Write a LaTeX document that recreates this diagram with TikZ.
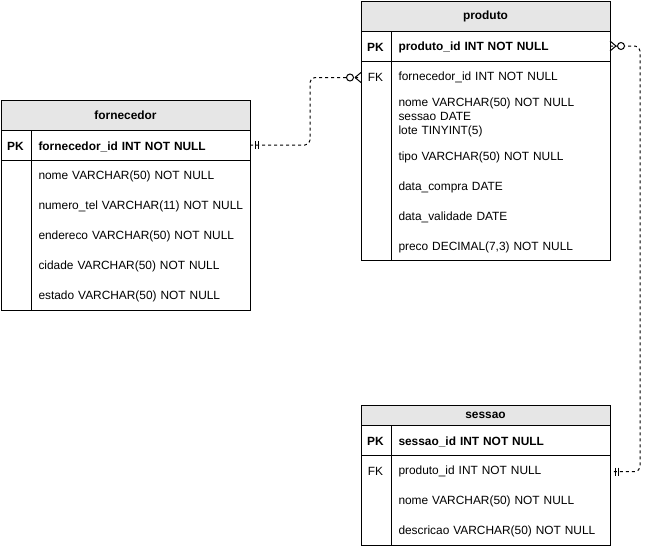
\documentclass[tikz,border=0pt]{standalone}
\usepackage{fontspec}
\setmainfont{Liberation Sans}
\usetikzlibrary{positioning}
\definecolor{hdrgray}{HTML}{E6E6E6}

\begin{document}
\begin{tikzpicture}[
			x=1pt, y=-1pt, line width=1pt,
			font=\fontsize{11.9}{14}\selectfont,
			node distance=30pt,
			% 表头，灰色底
			tabhead/.style={rectangle, draw=black, fill=hdrgray, minimum width=249pt, minimum height=30pt, inner sep=0pt, outer sep=0pt, font=\fontsize{11.9}{14}\selectfont\bfseries},
			% 表格的框
			tabbox/.style={rectangle, draw=black, minimum width=249pt, minimum height=30pt, inner sep=0pt, outer sep=0pt},
			% 字段文字，宽度一样，上下对齐
			field/.style={text width=210pt, align=left, inner sep=0pt},
			pkfield/.style={field, font=\fontsize{11.9}{14}\selectfont\bfseries},
			keylabel/.style={minimum width=30pt, inner sep=0pt},
			% 虚线关系
			rel/.style={draw=black, dash pattern=on 3pt off 3pt, rounded corners=5pt}
		]
		\useasboundingbox (0,0) rectangle (650,546);

		%fornecedor
		\node[tabhead]          (forn)          at (125.5,115)                              {fornecedor};
		\node[tabbox]           (fornpk)        [below=0pt of forn]                         {};
		\node[tabbox, minimum height=150pt] (fornbody) [below=0pt of fornpk]                {};
		\node[pkfield, anchor=west] (fornid)    at ([xshift=37pt, yshift=-1.5pt]fornpk.west) {fornecedor\_id INT NOT NULL};
		\node[keylabel, font=\fontsize{11.9}{14}\selectfont\bfseries] (fornpkl) [left=7pt of fornid.west] {PK};
		\node[field]            (fornnome)      [below of=fornid]                           {nome VARCHAR(50) NOT NULL};
		\node[field]            (forntel)       [below of=fornnome]                         {numero\_tel VARCHAR(11) NOT NULL};
		\node[field]            (fornend)       [below of=forntel]                          {endereco VARCHAR(50) NOT NULL};
		\node[field]            (forncid)       [below of=fornend]                          {cidade VARCHAR(50) NOT NULL};
		\node[field]            (fornest)       [below of=forncid]                          {estado VARCHAR(50) NOT NULL};
		\draw ([xshift=30pt]fornpk.north west) -- ([xshift=30pt]fornbody.south west);

		%produto
		\node[tabhead]          (prod)          at (485.5,16)                               {produto};
		\node[tabbox]           (prodpk)        [below=0pt of prod]                         {};
		\node[tabbox, minimum height=199pt] (prodbody) [below=0pt of prodpk]                {};
		\node[pkfield, anchor=west] (prodid)    at ([xshift=37pt, yshift=-1.5pt]prodpk.west) {produto\_id INT NOT NULL};
		\node[keylabel, font=\fontsize{11.9}{14}\selectfont\bfseries] (prodpkl) [left=7pt of prodid.west] {PK};
		\node[field]            (prodfkf)       [below of=prodid]                           {fornecedor\_id INT NOT NULL};
		\node[keylabel]         (prodfkl)       [left=7pt of prodfkf.west]                  {FK};
		\node[field]            (prodnome)      [below of=prodfkf, node distance=40pt]      {nome VARCHAR(50) NOT NULL\\sessao DATE\\lote TINYINT(5)};
		\node[field]            (prodtipo)      [below of=prodnome, node distance=40pt]     {tipo VARCHAR(50) NOT NULL};
		\node[field]            (prodcompra)    [below of=prodtipo]                         {data\_compra DATE};
		\node[field]            (prodvalid)     [below of=prodcompra]                       {data\_validade DATE};
		\node[field]            (prodpreco)     [below of=prodvalid]                        {preco DECIMAL(7,3) NOT NULL};
		\draw ([xshift=30pt]prodpk.north west) -- ([xshift=30pt]prodbody.south west);

		%sessao
		\node[tabhead, minimum height=20pt] (sess) at (485.5,415)                           {sessao};
		\node[tabbox]           (sesspk)        [below=0pt of sess]                         {};
		\node[tabbox, minimum height=90pt] (sessbody) [below=0pt of sesspk]                 {};
		\node[pkfield, anchor=west] (sessid)    at ([xshift=37pt, yshift=-1.5pt]sesspk.west) {sessao\_id INT NOT NULL};
		\node[keylabel, font=\fontsize{11.9}{14}\selectfont\bfseries] (sesspkl) [left=7pt of sessid.west] {PK};
		\node[field]            (sessfkf)       [below of=sessid]                           {produto\_id INT NOT NULL};
		\node[keylabel]         (sessfkl)       [left=7pt of sessfkf.west]                  {FK};
		\node[field]            (sessnome)      [below of=sessfkf]                          {nome VARCHAR(50) NOT NULL};
		\node[field]            (sessdesc)      [below of=sessnome]                         {descricao VARCHAR(50) NOT NULL};
		\draw ([xshift=30pt]sesspk.north west) -- ([xshift=30pt]sessbody.south west);

		%Lines
		\coordinate (prodfkin) at (prodbody.west |- prodfkf);
		\coordinate (sessfkin) at (sessbody.east |- sessfkf);
		\draw[rel] (fornpk.east) -| ([xshift=-51pt]prodfkin) -- (prodfkin);
		\draw[rel] (prodpk.east) -| ([xshift=30pt]sessfkin) -- (sessfkin);

		% 一对一的两条竖线
		\draw ([xshift=5pt]fornpk.east) ++(0,-4) -- ++(0,8);
		\draw ([xshift=8pt]fornpk.east) ++(0,-4) -- ++(0,8);
		\draw ([xshift=5pt]sessfkin) ++(0,-4) -- ++(0,8);
		\draw ([xshift=8pt]sessfkin) ++(0,-4) -- ++(0,8);
		% 零或多：鸡爪加圆圈
		\draw ([xshift=-6pt]prodfkin) -- ([yshift=-5pt]prodfkin) ([xshift=-6pt]prodfkin) -- ([yshift=5pt]prodfkin);
		\draw[fill=white] ([xshift=-11pt]prodfkin) circle (3.5pt);
		\draw ([xshift=6pt]prodpk.east) -- ([yshift=-5pt]prodpk.east) ([xshift=6pt]prodpk.east) -- ([yshift=5pt]prodpk.east);
		\draw[fill=white] ([xshift=11pt]prodpk.east) circle (3.5pt);
	\end{tikzpicture}
\end{document}
